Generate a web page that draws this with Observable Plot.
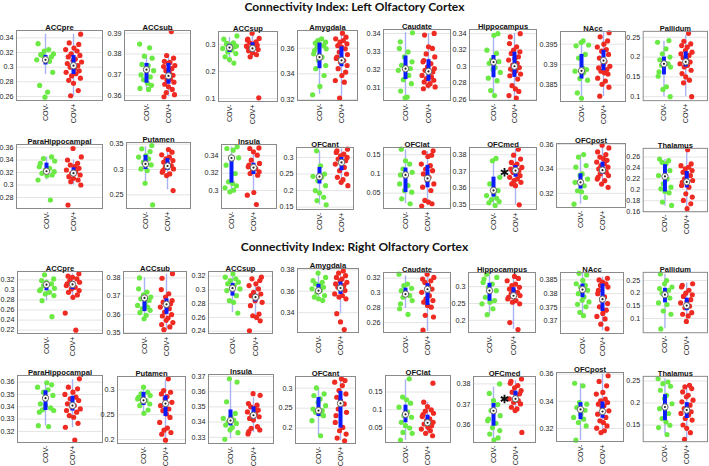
<!DOCTYPE html>
<html><head><meta charset="utf-8">
<script src="https://cdn.jsdelivr.net/npm/d3@7"></script>
<script src="https://cdn.jsdelivr.net/npm/@observablehq/plot@0.6"></script>
<style>
body{margin:0;background:#fff;}
#root{position:relative;width:709px;height:466px;overflow:hidden;background:#fff;}
.main{position:absolute;left:0;width:709px;text-align:center;font-family:Lato,"Open Sans",sans-serif;font-weight:bold;font-size:12px;color:#111;line-height:14px;}
.panel{position:absolute;}
</style></head><body><div id="root"></div>
<script>
// ---------------- DATA ----------------
const titles = ["Connectivity Index: Left Olfactory Cortex", "Connectivity Index: Right Olfactory Cortex"];
const regions = ["ACCpre","ACCsub","ACCsup","Amygdala","Caudate","Hippocampus","NAcc","Pallidum",
  "ParaHippocampal","Putamen","Insula","OFCant","OFClat","OFCmed","OFCpost","Thalamus"];
const groupLabels = ["COV-","COV+"];

// COV- values, left olfactory cortex
const leftNeg = [
 [0.332,0.324,0.322,0.318,0.317,0.314,0.311,0.31,0.308,0.316,0.293,0.275,0.266,0.259],
 [0.3848,0.383,0.379,0.378,0.375,0.3745,0.373,0.372,0.37,0.369,0.3677,0.366,0.365,0.3635,0.363],
 [0.331,0.319,0.306,0.301,0.297,0.291,0.285,0.279,0.272,0.266,0.254,0.244,0.231,0.304,0.294],
 [0.3673,0.366,0.3647,0.364,0.3629,0.362,0.3608,0.3595,0.3582,0.3556,0.353,0.3504,0.3465,0.344,0.3387,0.3302,0.3237],
 [0.3404,0.3354,0.3317,0.3298,0.327,0.3243,0.3224,0.3206,0.32,0.3196,0.3168,0.3144,0.3122,0.3081,0.3048,0.3044],
 [0.34,0.338,0.32,0.316,0.308,0.306,0.304,0.299,0.297,0.293,0.286,0.283,0.271,0.265],
 [0.3958,0.3954,0.3948,0.3946,0.3925,0.3916,0.3892,0.3888,0.3884,0.388,0.3866,0.3862,0.3831,0.3818],
 [0.2417,0.2375,0.2208,0.2083,0.2,0.1933,0.1875,0.1833,0.1792,0.175,0.1625,0.1517,0.125,0.1183,0.1],
 [0.345,0.3424,0.3384,0.3347,0.3293,0.3267,0.324,0.3213,0.3187,0.316,0.315,0.308,0.276],
 [0.3474,0.3408,0.3355,0.3276,0.3245,0.3211,0.3145,0.309,0.3013,0.298,0.273,0.2303],
 [0.3504,0.3485,0.3465,0.3388,0.3377,0.3292,0.3196,0.31,0.3081,0.3054,0.3031,0.3004,0.2985],
 [0.32,0.275,0.25,0.243,0.24,0.23,0.215,0.2,0.193,0.18,0.17,0.157],
 [0.1647,0.1345,0.1259,0.1129,0.1043,0.0974,0.0741,0.0698,0.0569,0.0526,0.0353,0.0224],
 [0.3778,0.3764,0.3664,0.3624,0.3584,0.3564,0.3554,0.3538,0.353,0.3518,0.351,0.3494],
 [0.3517,0.3497,0.3428,0.3414,0.3359,0.3345,0.3317,0.329,0.3262,0.3221,0.3213,0.3166,0.3111],
 [0.2564,0.2533,0.2503,0.2473,0.2352,0.2261,0.22,0.2109,0.2048,0.2018,0.197,0.1945,0.1776,0.1715]
];
// COV+ values, left olfactory cortex
const leftPos = [
 [0.345,0.333,0.331,0.326,0.324,0.322,0.318,0.316,0.314,0.311,0.309,0.307,0.305,0.302,0.3,0.298,0.295,0.293,0.291,0.288,0.285,0.282,0.278,0.268,0.261],
 [0.3908,0.3793,0.378,0.3765,0.376,0.3755,0.3745,0.374,0.373,0.372,0.371,0.3698,0.369,0.368,0.3675,0.3665,0.3655,0.3643,0.363,0.3615,0.3605,0.3595],
 [0.341,0.322,0.316,0.309,0.306,0.301,0.297,0.294,0.289,0.285,0.281,0.276,0.269,0.262,0.254,0.1025,0.319,0.291],
 [0.3717,0.3686,0.3673,0.366,0.3647,0.3634,0.362,0.3608,0.3595,0.357,0.355,0.353,0.352,0.3504,0.349,0.3465,0.344,0.3413,0.3387,0.3348,0.3335,0.3211],
 [0.34,0.3391,0.3326,0.3317,0.3287,0.327,0.325,0.3243,0.3233,0.3215,0.3206,0.3196,0.3187,0.3178,0.3168,0.316,0.315,0.3141,0.3132,0.3122,0.3113,0.3104,0.3094],
 [0.34,0.336,0.328,0.324,0.32,0.318,0.316,0.312,0.31,0.308,0.304,0.302,0.299,0.297,0.295,0.293,0.291,0.289,0.285,0.277,0.273,0.27,0.265,0.262],
 [0.3978,0.3968,0.3958,0.395,0.3943,0.3937,0.3933,0.3925,0.3916,0.3908,0.39,0.3896,0.3892,0.3888,0.3884,0.388,0.3877,0.3867,0.386,0.3852,0.3845,0.3823],
 [0.26,0.24,0.2333,0.229,0.225,0.2167,0.2125,0.2083,0.2042,0.1983,0.1933,0.1875,0.1833,0.1792,0.175,0.1667,0.1583,0.15,0.1417,0.135,0.1],
 [0.3584,0.345,0.34,0.3347,0.332,0.3293,0.3267,0.324,0.3213,0.3187,0.316,0.3133,0.3107,0.308,0.3053,0.3,0.268],
 [0.3395,0.3342,0.329,0.3243,0.3211,0.3178,0.3145,0.3112,0.3079,0.3046,0.3013,0.298,0.2947,0.2914,0.2882,0.2586],
 [0.3492,0.3485,0.3446,0.3408,0.335,0.3312,0.3292,0.3273,0.3254,0.3235,0.3215,0.3196,0.3177,0.2977,0.2946,0.2838],
 [0.325,0.32,0.315,0.31,0.305,0.3,0.295,0.29,0.285,0.28,0.27,0.26,0.25,0.24,0.233,0.225,0.215],
 [0.1603,0.156,0.1491,0.1457,0.1259,0.1216,0.1129,0.1086,0.1,0.0914,0.0828,0.0741,0.0655,0.0569,0.031,0.0267,0.0224,0.0164],
 [0.3834,0.3798,0.3774,0.3754,0.3744,0.3734,0.3724,0.3714,0.3704,0.3694,0.3684,0.3674,0.3664,0.3654,0.3644,0.3634,0.3624,0.3614,0.3498],
 [0.3594,0.3572,0.3539,0.3517,0.3497,0.3484,0.347,0.3456,0.3443,0.3428,0.3414,0.34,0.3387,0.3373,0.3359,0.3345,0.3331,0.3317,0.3304,0.3276,0.3249],
 [0.2733,0.2473,0.2442,0.2412,0.2382,0.2352,0.2321,0.2291,0.2261,0.22,0.217,0.2139,0.2079,0.2048,0.1927,0.1867,0.1806,0.1745,0.1655]
];
// box summaries [whisker low, q1, median, q3, whisker high]
const leftNegBox = [
 [0.29,0.303,0.31,0.316,0.345],[0.3625,0.366,0.3725,0.3755,0.3785],[0.23,0.27,0.288,0.30,0.325],[0.324,0.344,0.353,0.364,0.368],
 [0.3045,0.3145,0.3205,0.3275,0.3405],[0.265,0.2865,0.3055,0.3135,0.34],[0.382,0.3865,0.3885,0.3925,0.3955],[0.1,0.155,0.183,0.2,0.24],
 [0.308,0.318,0.322,0.335,0.345],[0.273,0.3,0.311,0.328,0.345],[0.298,0.3085,0.3375,0.3385,0.35],[0.157,0.22,0.242,0.27,0.32],
 [0.0225,0.0515,0.0975,0.1155,0.163],[0.3495,0.3545,0.3585,0.3665,0.3775],[0.311,0.3235,0.329,0.336,0.3515],[0.17,0.196,0.2245,0.246,0.256]
];
const leftPosBox = [
 [0.26,0.29,0.302,0.316,0.345],[0.3595,0.3655,0.3695,0.3755,0.379],[0.25,0.272,0.285,0.306,0.335],[0.322,0.3455,0.3505,0.361,0.371],
 [0.309,0.3135,0.319,0.3255,0.34],[0.262,0.287,0.3005,0.3175,0.34],[0.3822,0.3885,0.391,0.3935,0.3978],[0.1,0.175,0.188,0.213,0.255],
 [0.3,0.3135,0.319,0.3275,0.34],[0.26,0.298,0.307,0.3215,0.338],[0.297,0.3185,0.3265,0.3315,0.342],[0.215,0.26,0.285,0.3,0.325],
 [0.017,0.064,0.0885,0.1225,0.158],[0.3498,0.3665,0.3705,0.3735,0.3834],[0.3255,0.3355,0.339,0.3455,0.3595],[0.165,0.2035,0.2145,0.2335,0.273]
];
const leftDomain = [
 [0.2545,0.35],[0.3577,0.3913],[0.089,0.3475],[0.3192,0.3738],[0.3029,0.3422],[0.259,0.345],[0.381,0.3981],[0.09,0.265],
 [0.2624,0.3648],[0.2232,0.3533],[0.2792,0.3531],[0.143,0.33],[0.01,0.169],[0.347,0.3844],[0.3084,0.3608],[0.16,0.2758]
];
const leftTicks = [
 [0.26,0.28,0.3,0.32,0.34],[0.36,0.37,0.38,0.39],[0.1,0.2,0.3],[0.32,0.34,0.36],[0.31,0.32,0.33,0.34],[0.26,0.28,0.3,0.32,0.34],
 [0.385,0.39,0.395],[0.1,0.15,0.2,0.25],[0.28,0.3,0.32,0.34,0.36],[0.25,0.3,0.35],[0.3,0.32,0.34],[0.15,0.2,0.25,0.3],
 [0.05,0.1,0.15],[0.35,0.36,0.37,0.38],[0.32,0.34,0.36],[0.16,0.18,0.2,0.22,0.24,0.26]
];

// COV- values, right olfactory cortex
const rightNeg = [
 [0.33,0.322,0.3187,0.3153,0.312,0.3087,0.3033,0.3007,0.2987,0.2953,0.292,0.2887,0.2787,0.2467],
 [0.38,0.374,0.3722,0.3707,0.3695,0.3685,0.3676,0.3658,0.3649,0.364,0.3631,0.3622,0.3609,0.3595,0.3576],
 [0.3234,0.3185,0.3161,0.3137,0.3112,0.3088,0.3063,0.3039,0.3015,0.299,0.2917,0.2844,0.282,0.2663],
 [0.3769,0.3729,0.3698,0.3683,0.3668,0.3652,0.3637,0.3622,0.3606,0.3585,0.356,0.3545,0.3529,0.3514],
 [0.3253,0.312,0.3098,0.3062,0.3031,0.3,0.2964,0.2942,0.2898,0.2853,0.2787,0.2711],
 [0.3373,0.3275,0.3225,0.3127,0.3078,0.298,0.2882,0.2686,0.2588,0.2539,0.249,0.2343,0.2167],
 [0.3874,0.3868,0.3848,0.3836,0.383,0.3824,0.3812,0.38,0.3788,0.3776,0.377,0.3761,0.3752,0.3732,0.372],
 [0.2756,0.25,0.2372,0.2244,0.2179,0.2115,0.2,0.1936,0.1808,0.1615,0.1551,0.1295,0.1167,0.059],
 [0.3595,0.3578,0.3559,0.3538,0.3519,0.3492,0.3424,0.341,0.3391,0.3375,0.337,0.3356,0.3247,0.3239],
 [0.3054,0.2953,0.2919,0.2885,0.2851,0.2818,0.2784,0.275,0.2716,0.2682,0.2595,0.2527],
 [0.3685,0.3663,0.3533,0.3457,0.3435,0.3424,0.3413,0.3402,0.3391,0.338,0.3365,0.3348,0.333,0.3287],
 [0.3008,0.2857,0.2815,0.2731,0.2647,0.2563,0.2479,0.2437,0.2395,0.2353,0.2311,0.2185,0.1807],
 [0.1876,0.1357,0.1281,0.1186,0.1071,0.0929,0.0833,0.0786,0.0643,0.0548,0.0481,0.0357,0.0329,0.0138],
 [0.38,0.3754,0.3719,0.37,0.3671,0.3646,0.363,0.3622,0.3609,0.3587,0.3574,0.3557,0.3538,0.3528],
 [0.3533,0.3514,0.3391,0.3379,0.3354,0.3334,0.3305,0.3281,0.3268,0.3244,0.3219,0.3114],
 [0.2553,0.2478,0.244,0.238,0.229,0.2177,0.2102,0.1985,0.1872,0.176,0.1647,0.1571,0.1496,0.1444,0.1286]
];
// COV+ values, right olfactory cortex
const rightPos = [
 [0.332,0.3273,0.3253,0.322,0.3187,0.3153,0.312,0.3087,0.3053,0.302,0.2987,0.2953,0.29,0.2853,0.254,0.22],
 [0.3823,0.3798,0.3736,0.3713,0.3695,0.3676,0.3667,0.3658,0.3649,0.364,0.3631,0.3613,0.3598,0.3591,0.358,0.3567,0.3555,0.3544,0.3531,0.3516],
 [0.3185,0.3161,0.3137,0.3088,0.3063,0.3015,0.2966,0.2941,0.2917,0.2893,0.2844,0.282,0.2771,0.2649,0.2624,0.26,0.2551,0.2405],
 [0.3789,0.3769,0.3745,0.3729,0.3714,0.3698,0.3683,0.3668,0.3652,0.3637,0.3622,0.3606,0.3575,0.356,0.3545,0.3529,0.3391,0.3314,0.3243],
 [0.3253,0.3209,0.3187,0.3164,0.3142,0.3098,0.3053,0.3009,0.2964,0.292,0.2898,0.2876,0.2831,0.2809,0.2698,0.2676,0.2498],
 [0.3304,0.3245,0.3176,0.3078,0.3029,0.298,0.2931,0.2882,0.2833,0.2784,0.2735,0.2686,0.2637,0.2588,0.2539,0.249,0.1931,0.1725],
 [0.3856,0.385,0.3842,0.3836,0.383,0.3824,0.3812,0.38,0.3788,0.3776,0.3764,0.3752,0.374,0.3728,0.3717,0.3708,0.3689,0.3672],
 [0.2372,0.2308,0.2244,0.2115,0.2,0.1936,0.1872,0.1744,0.168,0.1615,0.1487,0.1423,0.1231,0.1167,0.1103,0.0885],
 [0.3627,0.3559,0.3546,0.3519,0.35,0.3478,0.3465,0.3451,0.3424,0.341,0.3397,0.3383,0.337,0.3356,0.3329,0.3315,0.3266,0.3234,0.313],
 [0.3223,0.2986,0.2953,0.2919,0.2865,0.2818,0.275,0.2682,0.2615,0.2581,0.2514,0.2446,0.2345,0.223,0.2189,0.2142,0.2108,0.1986],
 [0.3587,0.3576,0.3522,0.3511,0.35,0.3489,0.3478,0.3467,0.3457,0.3446,0.3435,0.3424,0.3413,0.337,0.3359,0.3348,0.3337,0.3322],
 [0.3235,0.3193,0.3151,0.3067,0.2941,0.2857,0.2773,0.2689,0.2605,0.2479,0.2395,0.2311,0.2143,0.2017,0.1933,0.1849,0.1748,0.1681],
 [0.1752,0.1214,0.109,0.0995,0.0957,0.09,0.0862,0.0805,0.0738,0.069,0.0643,0.0595,0.0548,0.05,0.0452,0.0405,0.0329,0.0262],
 [0.3824,0.3813,0.3803,0.3792,0.3781,0.3768,0.376,0.3752,0.3736,0.3728,0.3719,0.3711,0.3703,0.3687,0.3679,0.3671,0.3565],
 [0.3588,0.3546,0.3514,0.3465,0.3453,0.3416,0.3404,0.3391,0.3379,0.3367,0.3354,0.333,0.3305,0.3281,0.3256,0.3244,0.3219,0.3202,0.3183,0.317],
 [0.2402,0.2365,0.2327,0.2252,0.2177,0.214,0.2065,0.2027,0.1952,0.1877,0.1839,0.1802,0.1764,0.1726,0.1651,0.1614,0.1501,0.1426,0.1328,0.1178]
];
const rightNegBox = [
 [0.278,0.2985,0.3105,0.3135,0.32],[0.357,0.3615,0.369,0.3695,0.38],[0.267,0.291,0.3025,0.3095,0.319],[0.352,0.3585,0.3605,0.3665,0.375],
 [0.279,0.2965,0.2985,0.3065,0.323],[0.215,0.2565,0.2885,0.31,0.335],[0.372,0.3785,0.3815,0.3835,0.3875],[0.06,0.162,0.194,0.219,0.275],
 [0.3245,0.337,0.347,0.353,0.3595],[0.2525,0.2685,0.279,0.295,0.305],[0.329,0.3375,0.341,0.348,0.368],[0.18,0.229,0.244,0.2765,0.3],
 [0.013,0.063,0.087,0.113,0.185],[0.3528,0.3595,0.367,0.3705,0.3785],[0.311,0.3265,0.334,0.339,0.353],[0.13,0.16,0.191,0.219,0.255]
];
const rightPosBox = [
 [0.285,0.3005,0.311,0.3165,0.332],[0.351,0.36,0.3655,0.3685,0.382],[0.255,0.2825,0.2895,0.2935,0.31],[0.339,0.357,0.363,0.3685,0.378],
 [0.248,0.283,0.305,0.3125,0.325],[0.173,0.262,0.273,0.297,0.325],[0.3665,0.3735,0.378,0.3835,0.386],[0.088,0.131,0.151,0.18,0.24],
 [0.323,0.3365,0.341,0.3485,0.362],[0.197,0.2465,0.2725,0.288,0.32],[0.333,0.342,0.3445,0.35,0.356],[0.168,0.2,0.262,0.292,0.323],
 [0.026,0.0535,0.063,0.0845,0.12],[0.368,0.371,0.3728,0.3765,0.3815],[0.317,0.3275,0.3325,0.3395,0.36],[0.118,0.165,0.184,0.201,0.238]
];
const rightDomain = [
 [0.2133,0.3367],[0.3495,0.3835],[0.2366,0.3268],[0.3215,0.3812],[0.2467,0.3276],[0.1637,0.3422],[0.3655,0.3877],[0.044,0.282],
 [0.311,0.3654],[0.192,0.327],[0.3259,0.3713],[0.1613,0.3294],[0.007,0.197],[0.3516,0.3836],[0.3104,0.3612],[0.1124,0.2605]
];
const rightTicks = [
 [0.22,0.24,0.26,0.28,0.3,0.32],[0.35,0.36,0.37,0.38],[0.24,0.26,0.28,0.3,0.32],[0.34,0.36,0.38],[0.26,0.28,0.3,0.32],[0.2,0.25,0.3],
 [0.37,0.375,0.38,0.385],[0.1,0.15,0.2,0.25],[0.32,0.33,0.34,0.35,0.36],[0.2,0.25,0.3],[0.33,0.34,0.35,0.36,0.37],[0.2,0.25,0.3],
 [0.05,0.1,0.15],[0.36,0.37,0.38],[0.32,0.34,0.36],[0.15,0.2,0.25]
];
// significance markers: region index -> y value
const leftStars = {13: 0.3694};
const rightStars = {13: 0.3727};

// ---------------- LAYOUT (frame x0,x1,y0,y1 and group centers c1,c2) ----------------
const layoutLeft = [
 [16,102,30,100,45,73],[124,190,30,100,146,168],[218,277,31,101,229,252],[297,357,30,100,319,341],
 [383,450,29,100,405,428],[469,536,29,100,493,514],[560,625,31,101,581,603],[643,708,31,101,664,686],
 [16,102,144,208,46,73],[126,190,142,208,145,167],[221,276,144,208,231,253],[296,353,147,209,319,341],
 [383,450,147,208,405,427],[469,536,147,209,493,515],[556,625,143,207,580,602],[643,708,148,212,665,687]
];
const layoutRight = [
 [17,102,271,333,46,72],[123,186,271,333,144,166],[208,272,271,333,232,255],[297,358,268,332,318,340],
 [383,450,272,332,405,427],[468,535,272,332,489,513],[560,623,272,333,582,602],[643,708,272,333,665,687],
 [17,102,375,442,45,72],[117,185,376,443,143,165],[208,273,374,443,230,253],[295,355,376,443,318,340],
 [385,450,375,442,405,427],[473,535,376,442,493,515],[556,623,372,441,580,602],[643,708,376,442,665,687]
];
const JIT = [-0.28,0.12,-0.05,0.3,-0.18,0.22,0.02,-0.33,0.15,-0.1,0.27,-0.22,0.08,-0.02,0.34,-0.26,0.18,-0.14,0.05,0.24,-0.31,0.1,-0.08,0.29,-0.2,0.0,0.2,-0.12,0.32,-0.24];

const GREEN = "#6be944", RED = "#ee2a22", BLUE = "#0b1cff", WHISK = "#a9b2f2";
const root = document.getElementById("root");

titles.forEach((t, k) => {
  const d = document.createElement("div");
  d.className = "main";
  d.style.top = (k === 0 ? 0 : 240) + "px";
  d.textContent = t;
  root.appendChild(d);
});

function panel(idx, name, neg, pos, nb, pb, dom, ticks, star, lay) {
  const [x0, x1, y0, y1, c1, c2] = lay;
  const s = c2 - c1;
  const xd = [1 - (c1 - x0) / s, 2 + (x1 - c2) / s];
  const ml = 32, mr = 2, mt = 14, mb = 24;
  const pts = [
    ...neg.map((v, k) => ({g: 1, j: JIT[(k + idx * 7) % JIT.length] * 0.95, v})),
    ...pos.map((v, k) => ({g: 2, j: JIT[(k + idx * 5 + 3) % JIT.length] * 0.85, v}))
  ];
  const boxes = [{g: 1, b: nb}, {g: 2, b: pb}];
  const marks = [
    Plot.gridY(ticks, {stroke: "#e4e4e4", strokeOpacity: 1}),
    Plot.ruleX(boxes, {x: "g", y1: d => d.b[0], y2: d => d.b[4], stroke: WHISK, strokeWidth: 1.4}),
    Plot.dot(pts, {x: d => d.g + d.j, y: "v", r: 2.6, fill: d => d.g === 1 ? GREEN : RED}),
    Plot.ruleX(boxes, {x: "g", y1: d => d.b[1], y2: d => d.b[3], stroke: BLUE, strokeWidth: 4}),
    Plot.dot(boxes, {x: "g", y: d => d.b[2], r: 3.2, fill: "white", stroke: "#666", strokeWidth: 1}),
    Plot.dot(boxes, {x: "g", y: d => d.b[2], r: 1.1, fill: "#222"}),
    Plot.frame({stroke: "#8a8a8a"}),
    Plot.text([name], {frameAnchor: "top", dy: -6, fontWeight: "bold", fontSize: 7.6, fill: "#111",
      fontFamily: "Liberation Sans, Arial, sans-serif"})
  ];
  if (star !== undefined) {
    marks.push(Plot.dot([star], {x: 1.5, y: d => d, symbol: "asterisk", r: 4, stroke: "#111", strokeWidth: 1.8}));
  }
  const svg = Plot.plot({
    width: x1 - x0 + ml + mr, height: y1 - y0 + mt + mb,
    marginLeft: ml, marginRight: mr, marginTop: mt, marginBottom: mb,
    x: {domain: xd, ticks: [1, 2], tickFormat: d => groupLabels[d - 1], tickRotate: -90, tickSize: 0, tickPadding: 3, label: null},
    y: {domain: dom, ticks, tickFormat: d => String(d), tickSize: 0, tickPadding: 3, label: null},
    style: {fontSize: "7.2px", fontFamily: "Liberation Sans, Arial, sans-serif", color: "#222", background: "transparent", overflow: "visible"},
    marks
  });
  const wrap = document.createElement("div");
  wrap.className = "panel";
  wrap.style.left = (x0 - ml) + "px";
  wrap.style.top = (y0 - mt) + "px";
  wrap.appendChild(svg);
  root.appendChild(wrap);
}

regions.forEach((r, i) => panel(i, r, leftNeg[i], leftPos[i], leftNegBox[i], leftPosBox[i], leftDomain[i], leftTicks[i], leftStars[i], layoutLeft[i]));
regions.forEach((r, i) => panel(i + 16, r, rightNeg[i], rightPos[i], rightNegBox[i], rightPosBox[i], rightDomain[i], rightTicks[i], rightStars[i], layoutRight[i]));
</script></body></html>
